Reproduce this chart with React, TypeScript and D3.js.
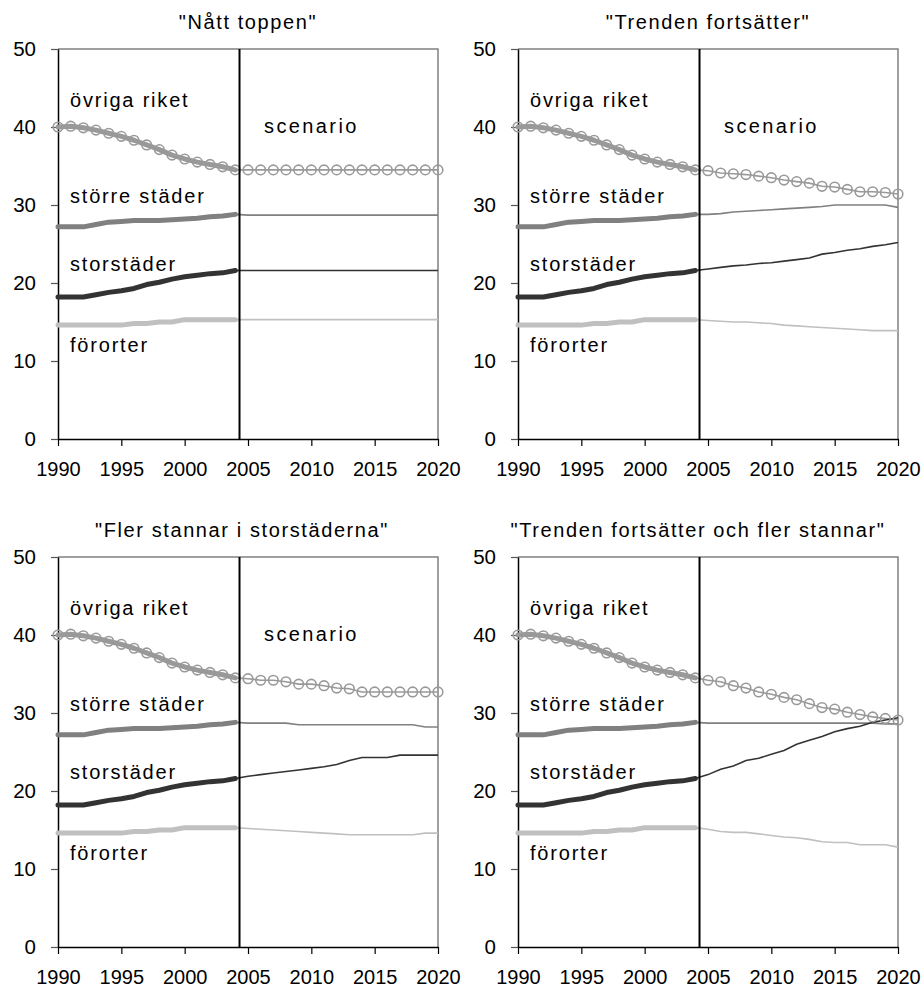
import { useEffect, useRef } from "react";
import * as d3 from "d3";

// years
const histYears = [1990, 1991, 1992, 1993, 1994, 1995, 1996, 1997, 1998, 1999, 2000, 2001, 2002, 2003, 2004];
const scenYears = [2005, 2006, 2007, 2008, 2009, 2010, 2011, 2012, 2013, 2014, 2015, 2016, 2017, 2018, 2019, 2020];
const xTicks = [1990, 1995, 2000, 2005, 2010, 2015, 2020];
const yTicks = [0, 10, 20, 30, 40, 50];

// historical shares, same in all four panels
const ovrigaHist = [40.0, 40.1, 39.9, 39.6, 39.2, 38.8, 38.3, 37.7, 37.1, 36.4, 35.9, 35.5, 35.2, 34.9, 34.5];
const storreHist = [27.2, 27.2, 27.2, 27.5, 27.8, 27.9, 28.0, 28.0, 28.0, 28.1, 28.2, 28.3, 28.5, 28.6, 28.8];
const storHist = [18.2, 18.2, 18.2, 18.5, 18.8, 19.0, 19.3, 19.8, 20.1, 20.5, 20.8, 21.0, 21.2, 21.3, 21.6];
const fororterHist = [14.6, 14.6, 14.6, 14.6, 14.6, 14.6, 14.8, 14.8, 15.0, 15.0, 15.3, 15.3, 15.3, 15.3, 15.3];

// "Nått toppen"
const p1Ovriga = [34.5, 34.5, 34.5, 34.5, 34.5, 34.5, 34.5, 34.5, 34.5, 34.5, 34.5, 34.5, 34.5, 34.5, 34.5, 34.5];
const p1Storre = [28.7, 28.7, 28.7, 28.7, 28.7, 28.7, 28.7, 28.7, 28.7, 28.7, 28.7, 28.7, 28.7, 28.7, 28.7, 28.7];
const p1Stor = [21.6, 21.6, 21.6, 21.6, 21.6, 21.6, 21.6, 21.6, 21.6, 21.6, 21.6, 21.6, 21.6, 21.6, 21.6, 21.6];
const p1Fororter = [15.3, 15.3, 15.3, 15.3, 15.3, 15.3, 15.3, 15.3, 15.3, 15.3, 15.3, 15.3, 15.3, 15.3, 15.3, 15.3];

// "Trenden fortsätter"
const p2Ovriga = [34.4, 34.1, 34.0, 33.9, 33.7, 33.5, 33.2, 33.0, 32.8, 32.4, 32.3, 32.0, 31.7, 31.7, 31.6, 31.4];
const p2Storre = [28.8, 28.9, 29.1, 29.2, 29.3, 29.4, 29.5, 29.6, 29.7, 29.8, 30.0, 30.0, 30.0, 30.0, 30.0, 29.7];
const p2Stor = [21.8, 22.0, 22.2, 22.3, 22.5, 22.6, 22.8, 23.0, 23.2, 23.7, 23.9, 24.2, 24.4, 24.7, 24.9, 25.2];
const p2Fororter = [15.2, 15.1, 15.0, 15.0, 14.9, 14.8, 14.6, 14.5, 14.4, 14.3, 14.2, 14.1, 14.0, 13.9, 13.9, 13.9];

// "Fler stannar i storstäderna"
const p3Ovriga = [34.4, 34.2, 34.2, 34.0, 33.7, 33.7, 33.5, 33.2, 33.1, 32.7, 32.7, 32.7, 32.7, 32.7, 32.7, 32.7];
const p3Storre = [28.7, 28.7, 28.7, 28.7, 28.5, 28.5, 28.5, 28.5, 28.5, 28.5, 28.5, 28.5, 28.5, 28.5, 28.2, 28.2];
const p3Stor = [21.9, 22.1, 22.3, 22.5, 22.7, 22.9, 23.1, 23.4, 23.9, 24.3, 24.3, 24.3, 24.6, 24.6, 24.6, 24.6];
const p3Fororter = [15.2, 15.1, 15.0, 14.9, 14.8, 14.7, 14.6, 14.5, 14.4, 14.4, 14.4, 14.4, 14.4, 14.4, 14.6, 14.6];

// "Trenden fortsätter och fler stannar"
const p4Ovriga = [34.2, 34.0, 33.5, 33.2, 32.7, 32.4, 32.0, 31.7, 31.2, 30.7, 30.5, 30.1, 29.8, 29.5, 29.3, 29.1];
const p4Storre = [28.7, 28.7, 28.7, 28.7, 28.7, 28.7, 28.7, 28.7, 28.7, 28.7, 28.7, 28.7, 28.7, 28.7, 28.6, 28.6];
const p4Stor = [22.1, 22.8, 23.2, 23.9, 24.2, 24.7, 25.2, 26.0, 26.5, 27.0, 27.6, 28.0, 28.3, 28.8, 29.1, 29.4];
const p4Fororter = [15.1, 14.8, 14.7, 14.7, 14.5, 14.3, 14.1, 14.0, 13.8, 13.5, 13.4, 13.4, 13.1, 13.1, 13.1, 12.8];

const titles = ['"Nått toppen"', '"Trenden fortsätter"', '"Fler stannar i storstäderna"', '"Trenden fortsätter och fler stannar"'];
const seriesNames = ["övriga riket", "större städer", "storstäder", "förorter"];
const seriesColors = ["#999999", "#808080", "#333333", "#c0c0c0"];

const panels = [
  { title: titles[0], scen: [p1Ovriga, p1Storre, p1Stor, p1Fororter], col: 0, row: 0, scenarioLabel: true, titleDx: 0 },
  { title: titles[1], scen: [p2Ovriga, p2Storre, p2Stor, p2Fororter], col: 1, row: 0, scenarioLabel: true, titleDx: 0 },
  { title: titles[2], scen: [p3Ovriga, p3Storre, p3Stor, p3Fororter], col: 0, row: 1, scenarioLabel: true, titleDx: -6 },
  { title: titles[3], scen: [p4Ovriga, p4Storre, p4Stor, p4Fororter], col: 1, row: 1, scenarioLabel: false, titleDx: -10 },
];
const hist = [ovrigaHist, storreHist, storHist, fororterHist];

const W = 923;
const H = 987;
const colX = [58, 518];
const rowY = [49, 557];
const plotW = 380;
const plotH = 390;
const splitYear = 2004.33;
const FONT = "'Liberation Sans', Arial, Helvetica, sans-serif";

// label offsets from the plot's top-left corner
const labelPos = [
  { dx: 12, dy: 58 },
  { dx: 12, dy: 154 },
  { dx: 12, dy: 222 },
  { dx: 12, dy: 303 },
];

export default function App() {
  const ref = useRef<SVGSVGElement>(null);

  useEffect(() => {
    if (!ref.current) return;
    const svg = d3.select(ref.current);
    svg.selectAll("*").remove();

    panels.forEach((p) => {
      const x0 = colX[p.col];
      const y0 = rowY[p.row];
      const g = svg.append("g");

      const x = d3.scaleLinear().domain([1990, 2020]).range([x0, x0 + plotW]);
      const y = d3.scaleLinear().domain([0, 50]).range([y0 + plotH, y0]);

      // top and right border
      g.append("path")
        .attr("d", `M${x0},${y0}H${x0 + plotW}V${y0 + plotH}`)
        .attr("fill", "none")
        .attr("stroke", "#808080")
        .attr("stroke-width", 1.5);

      const yAxis = g
        .append("g")
        .attr("transform", `translate(${x0},0)`)
        .call(d3.axisLeft(y).tickValues(yTicks).tickSize(7).tickSizeOuter(0).tickPadding(15));
      yAxis.select(".domain").attr("stroke", "#000").attr("stroke-width", 1.5);
      yAxis.selectAll(".tick line").attr("stroke", "#555").attr("stroke-width", 1.2);
      yAxis.selectAll("text").attr("font-size", 20.5).attr("font-family", FONT).attr("fill", "#000");

      const xAxis = g
        .append("g")
        .attr("transform", `translate(0,${y0 + plotH})`)
        .call(
          d3.axisBottom(x).tickValues(xTicks).tickSize(7).tickSizeOuter(0).tickPadding(16).tickFormat(d3.format("d"))
        );
      xAxis.select(".domain").attr("stroke", "#000").attr("stroke-width", 1.5);
      xAxis.selectAll(".tick line").attr("stroke", "#000").attr("stroke-width", 1.2);
      xAxis.selectAll("text").attr("font-size", 20).attr("font-family", FONT).attr("fill", "#000");

      const line = d3
        .line<[number, number]>()
        .x((d) => x(d[0]))
        .y((d) => y(d[1]));

      // historical, thick
      hist.forEach((vals, i) => {
        const pts: [number, number][] = histYears.map((yr, j) => [yr, vals[j]]);
        g.append("path")
          .datum(pts)
          .attr("fill", "none")
          .attr("stroke", seriesColors[i])
          .attr("stroke-width", 5)
          .attr("stroke-linecap", "round")
          .attr("stroke-linejoin", "round")
          .attr("d", line);
      });

      // scenario, thin
      p.scen.forEach((vals, i) => {
        const last = hist[i][hist[i].length - 1];
        const pts: [number, number][] = [[2004, last], ...scenYears.map((yr, j) => [yr, vals[j]] as [number, number])];
        g.append("path")
          .datum(pts)
          .attr("fill", "none")
          .attr("stroke", seriesColors[i])
          .attr("stroke-width", 1.6)
          .attr("d", line);
      });

      // circle markers on övriga riket
      const markers: [number, number][] = [
        ...histYears.map((yr, j) => [yr, ovrigaHist[j]] as [number, number]),
        ...scenYears.map((yr, j) => [yr, p.scen[0][j]] as [number, number]),
      ];
      g.append("g")
        .selectAll("circle")
        .data(markers)
        .join("circle")
        .attr("cx", (d) => x(d[0]))
        .attr("cy", (d) => y(d[1]))
        .attr("r", 4.8)
        .attr("fill", "none")
        .attr("stroke", "#999999")
        .attr("stroke-width", 1.6);

      // divider history / scenario
      g.append("line")
        .attr("x1", x(splitYear))
        .attr("x2", x(splitYear))
        .attr("y1", y(50))
        .attr("y2", y(0))
        .attr("stroke", "#000")
        .attr("stroke-width", 2);

      // title
      g.append("text")
        .attr("x", x0 + plotW / 2 + p.titleDx)
        .attr("y", y0 - 20)
        .attr("text-anchor", "middle")
        .attr("font-size", 20)
        .attr("font-family", FONT)
        .attr("letter-spacing", 1.6)
        .text(p.title);

      seriesNames.forEach((name, i) => {
        g.append("text")
          .attr("x", x0 + labelPos[i].dx)
          .attr("y", y0 + labelPos[i].dy)
          .attr("font-size", 20)
          .attr("font-family", FONT)
          .attr("letter-spacing", 1.8)
          .text(name);
      });

      if (p.scenarioLabel) {
        g.append("text")
          .attr("x", x0 + 206)
          .attr("y", y0 + 84)
          .attr("font-size", 20)
          .attr("font-family", FONT)
          .attr("letter-spacing", 2.4)
          .text("scenario");
      }
    });
  }, []);

  return (
    <div style={{ position: "absolute", left: 0, top: 0 }}>
      <svg ref={ref} width={W} height={H} style={{ display: "block", background: "#fff" }} />
    </div>
  );
}
